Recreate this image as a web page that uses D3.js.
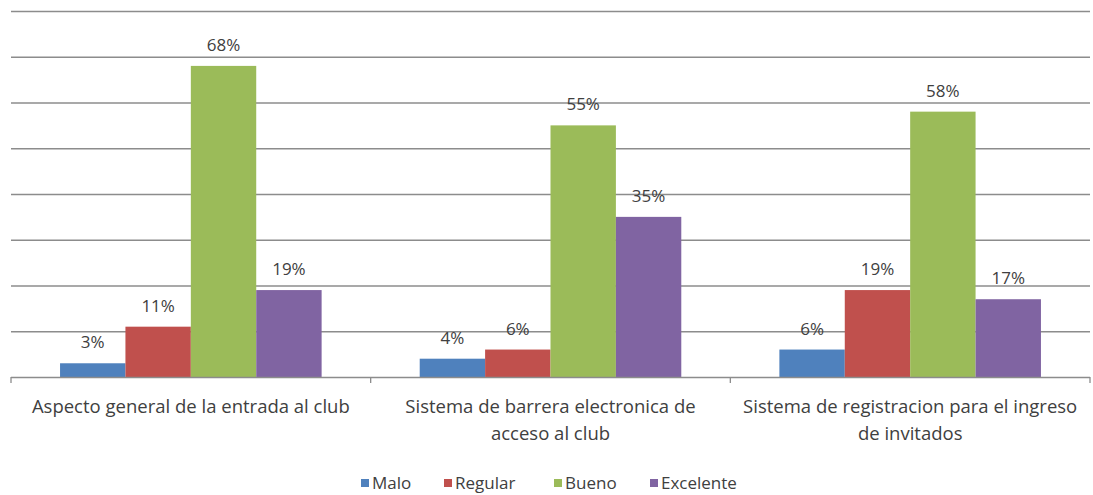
<!DOCTYPE html>
<html><head><meta charset="utf-8">
<script src="https://cdn.jsdelivr.net/npm/d3@7"></script>
<style>body{margin:0;background:#fff}svg{display:block}</style>
</head><body>
<svg id="c" width="1093" height="495"></svg>
<script>
const categories = [
  ["Aspecto general de la entrada al club"],
  ["Sistema de barrera electronica de", "acceso al club"],
  ["Sistema de registracion para el ingreso", "de invitados"]
];
const seriesNames = ["Malo", "Regular", "Bueno", "Excelente"];
const malo = [3, 4, 6];
const regular = [11, 6, 19];
const bueno = [68, 55, 58];
const excelente = [19, 35, 17];
const yTicks = [0, 10, 20, 30, 40, 50, 60, 70, 80];
const colors = ["#4F81BD", "#C0504D", "#9BBB59", "#8064A2"];

(function () {
const series = [malo, regular, bueno, excelente];
const svg = d3.select("#c");
const font = "'Open Sans', sans-serif";
const textColor = "#404040";
const pLeft = 11, pRight = 1090, pTop = 11, pBottom = 377;

const x0 = d3.scaleBand().domain(d3.range(categories.length)).range([pLeft, pRight]).paddingInner(0).paddingOuter(0);
const gw = x0.bandwidth();
const barW = gw / (4 + 1.5);
const x1 = d3.scaleBand().domain(seriesNames).range([0.75 * barW, gw - 0.75 * barW]).padding(0);
const y = d3.scaleLinear().domain([0, 80]).range([pBottom, pTop]);

// gridlines
svg.append("g").selectAll("line").data(yTicks.filter(d => d > 0)).join("line")
  .attr("x1", pLeft).attr("x2", pRight)
  .attr("y1", d => y(d) + 0.5).attr("y2", d => y(d) + 0.5)
  .attr("stroke", "#8c8c8c").attr("stroke-width", 1.3);

// bars
const groups = svg.append("g").selectAll("g").data(categories).join("g")
  .attr("transform", (d, i) => `translate(${x0(i)},0)`);
groups.each(function(c, ci) {
  const g = d3.select(this);
  seriesNames.forEach((s, si) => {
    const v = series[si][ci];
    g.append("rect").attr("x", x1(s)).attr("width", x1.bandwidth())
      .attr("y", y(v)).attr("height", y(0) - y(v)).attr("fill", colors[si]);
    g.append("text").attr("x", x1(s) + x1.bandwidth() / 2).attr("y", y(v) - 15)
      .attr("text-anchor", "middle").attr("font-family", font).attr("font-size", 17)
      .attr("fill", textColor).text(v + "%");
  });
});

// x axis baseline with ticks
const ax = svg.append("g");
ax.append("line").attr("x1", pLeft).attr("x2", pRight).attr("y1", pBottom + 0.5).attr("y2", pBottom + 0.5)
  .attr("stroke", "#8c8c8c").attr("stroke-width", 1.3);
ax.selectAll("line.t").data(d3.range(categories.length + 1)).join("line").attr("class", "t")
  .attr("x1", i => pLeft + i * gw).attr("x2", i => pLeft + i * gw)
  .attr("y1", pBottom).attr("y2", pBottom + 6).attr("stroke", "#8c8c8c").attr("stroke-width", 1.3);

// category labels
categories.forEach((lines, i) => {
  const t = svg.append("text").attr("text-anchor", "middle").attr("font-family", font)
    .attr("font-size", 18.5).attr("fill", textColor);
  lines.forEach((ln, j) => {
    t.append("tspan").attr("x", x0(i) + gw / 2).attr("y", 413 + j * 26.5).text(ln);
  });
});

// legend
const legendX = [361, 444, 554, 650];
const lg = svg.append("g");
seriesNames.forEach((s, i) => {
  lg.append("rect").attr("x", legendX[i]).attr("y", 479).attr("width", 8).attr("height", 8).attr("fill", colors[i]);
  lg.append("text").attr("x", legendX[i] + 11).attr("y", 489).attr("font-family", font)
    .attr("font-size", 17).attr("fill", textColor).text(s);
});
})();
</script>
</body></html>
